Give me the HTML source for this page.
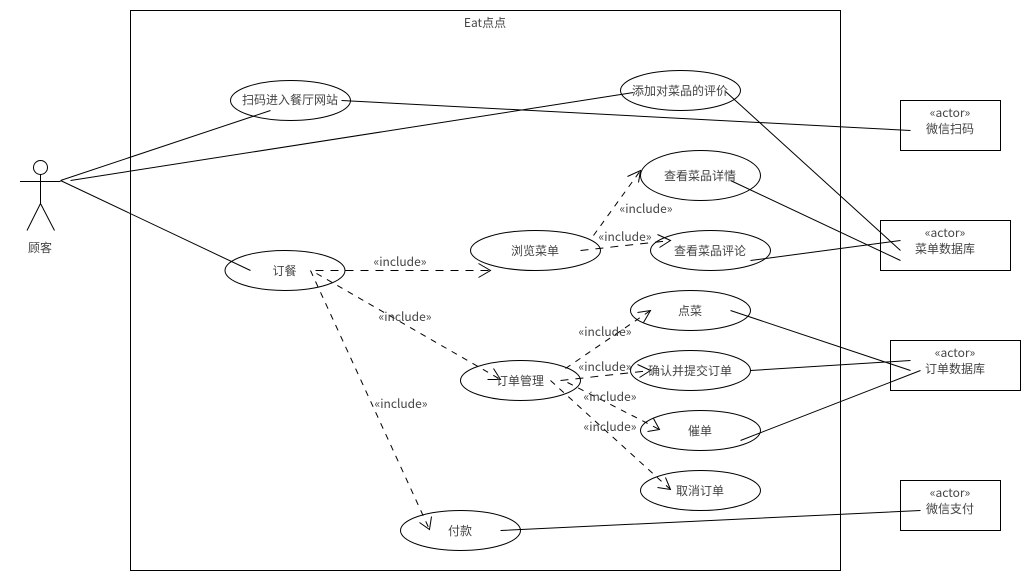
<!DOCTYPE html>
<html>
<head>
<meta charset="utf-8">
<style>
html,body{margin:0;padding:0;background:#fff;width:1030px;height:580px;overflow:hidden}
svg{display:block}
text{font-family:"Noto Sans CJK SC","Liberation Sans",sans-serif;font-size:12px;fill:#444;text-anchor:middle}
.s{stroke:#000;stroke-width:1;fill:none}
.d{stroke:#000;stroke-width:1;fill:none;stroke-dasharray:8 7}
.t{stroke:#000;stroke-width:1;fill:none;stroke-dasharray:6 6}
</style>
</head>
<body>
<svg width="1030" height="580" viewBox="0 0 1030 580" xmlns="http://www.w3.org/2000/svg">
<rect width="1030" height="580" fill="#fff"/>
<g transform="translate(.5 .5)">
<rect class="s" x="130" y="10" width="710" height="560"/>
<rect class="s" x="900" y="100" width="100" height="50"/>
<rect class="s" x="880" y="220" width="130" height="50"/>
<rect class="s" x="890" y="340" width="130" height="50"/>
<rect class="s" x="900" y="480" width="100" height="50"/>

<circle class="s" cx="40" cy="167" r="7"/>
<path class="s" d="M40 174V203M19.5 181H60M40 203L26.5 230M40 203L54 230"/>

<ellipse class="s" cx="290" cy="100" rx="60" ry="20"/>
<ellipse class="s" cx="680" cy="90" rx="60" ry="20"/>
<ellipse class="s" cx="700" cy="175" rx="60" ry="25"/>
<ellipse class="s" cx="710" cy="250" rx="60" ry="20"/>
<ellipse class="s" cx="535" cy="250" rx="65" ry="20"/>
<ellipse class="s" cx="284.5" cy="270" rx="60" ry="20"/>
<ellipse class="s" cx="520" cy="380" rx="60" ry="20"/>
<ellipse class="s" cx="690" cy="310" rx="60" ry="20"/>
<ellipse class="s" cx="690" cy="370" rx="60" ry="20"/>
<ellipse class="s" cx="700" cy="430" rx="60" ry="20"/>
<ellipse class="s" cx="700" cy="490" rx="60" ry="20"/>
<ellipse class="s" cx="460" cy="530" rx="60" ry="20"/>

<path class="s" d="M60 180L270 110M70 180L633 92M60 180L250 270M341 100L910 130M725 91L900 250M730 180L900 260M750 260L900 240M730 310L910 370M750 370L910 360M740 440L920 370M500 530L920 510"/>

<path class="d" d="M315 270H490"/>
<path class="s" d="M478 263L490 270L478 277"/>
<path class="t" d="M316 273L500 379"/>
<path class="s" d="M493 368L500 379L487 379"/>
<path class="t" d="M310 270L429 529"/>
<path class="s" d="M419 522L429 529L431 516"/>
<path class="t" d="M593 235L640 170"/>
<path class="s" d="M627 176L640 170L638 182"/>
<path class="d" d="M580 250L670 240"/>
<path class="s" d="M657 234L670 240L659 247"/>
<path class="t" d="M565 368L650 310"/>
<path class="s" d="M637 312L650 310L643 322"/>
<path class="d" d="M560 380L650 370"/>
<path class="s" d="M637 364L650 370L639 377"/>
<path class="t" d="M567 382L659 429"/>
<path class="s" d="M653 418L659 429L647 431"/>
<path class="t" d="M550 380L670 489"/>
<path class="s" d="M665 477L670 489L657 487"/>
</g>

<text x="485" y="27">Eat点点</text>
<text x="40" y="252">顾客</text>
<text x="290" y="104">扫码进入餐厅网站</text>
<text x="680" y="95">添加对菜品的评价</text>
<text x="700" y="180">查看菜品详情</text>
<text x="710" y="255">查看菜品评论</text>
<text x="535" y="255">浏览菜单</text>
<text x="284.5" y="275">订餐</text>
<text x="520" y="385">订单管理</text>
<text x="690" y="315">点菜</text>
<text x="690" y="375">确认并提交订单</text>
<text x="700" y="435">催单</text>
<text x="700" y="495">取消订单</text>
<text x="460" y="535">付款</text>

<text x="400" y="266">«include»</text>
<text x="405" y="321">«include»</text>
<text x="401" y="408">«include»</text>
<text x="646" y="213">«include»</text>
<text x="625" y="241">«include»</text>
<text x="605" y="336">«include»</text>
<text x="605" y="371">«include»</text>
<text x="610" y="401">«include»</text>
<text x="610" y="431">«include»</text>

<text x="950" y="117">«actor»</text>
<text x="950" y="133">微信扫码</text>
<text x="945" y="237">«actor»</text>
<text x="945" y="253">菜单数据库</text>
<text x="955" y="357">«actor»</text>
<text x="955" y="373">订单数据库</text>
<text x="950" y="497">«actor»</text>
<text x="950" y="513">微信支付</text>
</svg>
</body>
</html>
